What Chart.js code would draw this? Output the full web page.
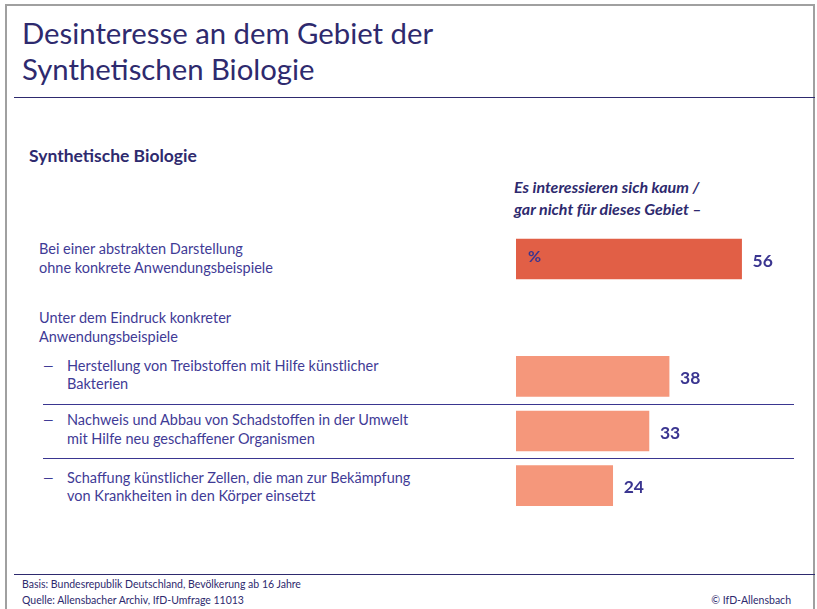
<!DOCTYPE html>
<html>
<head>
<meta charset="utf-8">
<script src="https://cdn.jsdelivr.net/npm/chart.js@4"></script>
<style>
  body { margin: 0; background: #fff; font-family: Lato, sans-serif; }
  #page { position: relative; width: 817px; height: 609px; overflow: hidden; }
  .frame { position: absolute; left: 5px; top: 4px; width: 810px; height: 620px; border: 2px solid #a0a0a0; box-sizing: border-box; }
  .t { position: absolute; white-space: nowrap; color: #3f3b96; line-height: 1; }
  .title { color: #2e2a6e; font-size: 29.3px; left: 22px; }
  .rule { position: absolute; height: 1px; background: #2e2a6e; }
  .sep { position: absolute; left: 43px; width: 751px; height: 1px; background: #3a3690; }
  .lbl { font-size: 14.5px; }
  .dash { font-size: 14.5px; transform: scaleX(1.5); transform-origin: left; }
  .foot { font-size: 10.5px; color: #2e2a6e; }
  canvas { position: absolute; left: 516px; }
</style>
</head>
<body>
<div id="page">
  <div class="frame"></div>
  <div class="t title" style="top:18px">Desinteresse an dem Gebiet der</div>
  <div class="t title" style="top:54px">Synthetischen Biologie</div>
  <div class="rule" style="left:14px; width:801px; top:97px"></div>

  <div class="t" style="left:29px; top:147px; font-size:17.5px; font-weight:bold; color:#2e2a6e">Synthetische Biologie</div>
  <div class="t" style="left:514px; top:179px; font-size:16px; font-weight:bold; font-style:italic; color:#2e2a6e">Es interessieren sich kaum /</div>
  <div class="t" style="left:514px; top:201px; font-size:16px; font-weight:bold; font-style:italic; color:#2e2a6e">gar nicht für dieses Gebiet –</div>

  <div class="t lbl" style="left:39px; top:242px">Bei einer abstrakten Darstellung</div>
  <div class="t lbl" style="left:39px; top:261px">ohne konkrete Anwendungsbeispiele</div>
  <div class="t lbl" style="left:39px; top:311px">Unter dem Eindruck konkreter</div>
  <div class="t lbl" style="left:39px; top:330px">Anwendungsbeispiele</div>

  <div class="t dash" style="left:42px; top:359px">–</div>
  <div class="t lbl" style="left:67px; top:359px">Herstellung von Treibstoffen mit Hilfe künstlicher</div>
  <div class="t lbl" style="left:67px; top:377px">Bakterien</div>
  <div class="sep" style="top:404px"></div>
  <div class="t dash" style="left:42px; top:413px">–</div>
  <div class="t lbl" style="left:67px; top:413px">Nachweis und Abbau von Schadstoffen in der Umwelt</div>
  <div class="t lbl" style="left:67px; top:432px">mit Hilfe neu geschaffener Organismen</div>
  <div class="sep" style="top:458px"></div>
  <div class="t dash" style="left:42px; top:471px">–</div>
  <div class="t lbl" style="left:67px; top:471px">Schaffung künstlicher Zellen, die man zur Bekämpfung</div>
  <div class="t lbl" style="left:67px; top:489px">von Krankheiten in den Körper einsetzt</div>

  <div class="rule" style="left:14px; width:801px; top:574px"></div>
  <div class="t foot" style="left:22px; top:579px">Basis: Bundesrepublik Deutschland, Bevölkerung ab 16 Jahre</div>
  <div class="t foot" style="left:22px; top:595px">Quelle: Allensbacher Archiv, IfD-Umfrage 11013</div>
  <div class="t foot" style="right:26px; top:595px">© IfD-Allensbach</div>

  <canvas id="chartAbstract" width="282" height="54" style="top:232px"></canvas>
  <canvas id="chartConcrete" width="282" height="164" style="top:349px"></canvas>
</div>

<script>
// abstract presentation (one bar)
const abstractLabels = ["Bei einer abstrakten Darstellung ohne konkrete Anwendungsbeispiele"];
const abstractValues = [56];

// concrete examples (three bars)
const concreteLabels = [
  "Herstellung von Treibstoffen mit Hilfe künstlicher Bakterien",
  "Nachweis und Abbau von Schadstoffen in der Umwelt mit Hilfe neu geschaffener Organismen",
  "Schaffung künstlicher Zellen, die man zur Bekämpfung von Krankheiten in den Körper einsetzt",
];
const concreteValues = [38, 33, 24];

const xMax = 70;

// value labels right of each bar, plus the "%" inside the first bar
const valueLabels = {
  id: "valueLabels",
  afterDatasetsDraw(chart, args, opts) {
    const ctx = chart.ctx;
    const meta = chart.getDatasetMeta(0);
    ctx.save();
    ctx.fillStyle = "#3a3590";
    ctx.font = "bold 17.5px Lato";
    ctx.textBaseline = "middle";
    meta.data.forEach((bar, i) => {
      const v = chart.data.datasets[0].data[i];
      ctx.fillText(v, bar.x + 11, bar.y + 2);
    });
    if (opts.percent) {
      const bar = meta.data[0];
      ctx.font = "bold 16px Lato";
      ctx.fillText("%", bar.base + 12, bar.y - 2);
    }
    ctx.restore();
  },
};

function barChart(id, labels, values, color, percent) {
  const ctx = document.getElementById(id).getContext("2d");
  return new Chart(ctx, {
    type: "bar",
    data: {
      labels,
      datasets: [
        {
          data: values,
          backgroundColor: color,
          barThickness: 40,
        },
      ],
    },
    options: {
      indexAxis: "y",
      responsive: false,
      animation: false,
      layout: { padding: 0 },
      plugins: {
        legend: { display: false },
        tooltip: { enabled: false },
        valueLabels: { percent },
      },
      scales: {
        x: { display: false, min: 0, max: xMax },
        y: { display: false },
      },
    },
    plugins: [valueLabels],
  });
}

barChart("chartAbstract", abstractLabels, abstractValues, "#e15f46", true);
barChart("chartConcrete", concreteLabels, concreteValues, "#f5977b", false);
</script>
</body>
</html>
